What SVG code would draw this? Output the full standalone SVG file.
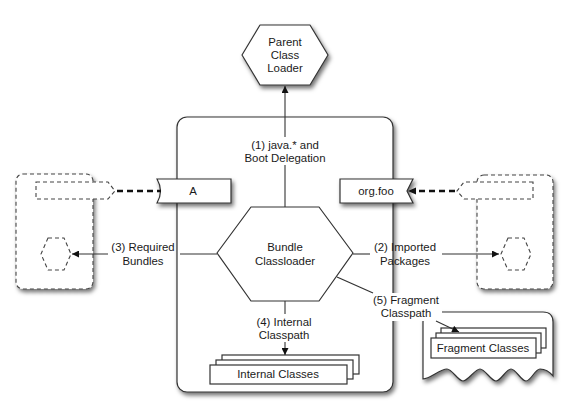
<svg xmlns="http://www.w3.org/2000/svg" width="565" height="404" viewBox="0 0 565 404">
<style>
text{font-family:"Liberation Sans",Arial,sans-serif;font-size:11.4px;fill:#1a1a1a;text-anchor:middle}
.n{fill:#fff;stroke:#333;stroke-width:1.2}
.d{fill:#fff;stroke:#444;stroke-width:1.1;stroke-dasharray:4,3}
.c{fill:none;stroke:#333;stroke-width:1.1}
.dash{fill:none;stroke:#111;stroke-width:2.6;stroke-dasharray:6,4}
</style>
<defs>
<filter id="sh" x="-20%" y="-20%" width="150%" height="150%">
<feDropShadow dx="2" dy="3" stdDeviation="2" flood-color="#000" flood-opacity="0.55"/>
</filter>
<marker id="ar" viewBox="0 0 10 10" refX="10" refY="5" markerWidth="8" markerHeight="7" markerUnits="userSpaceOnUse" orient="auto">
<path d="M0,0 L10,5 L0,10 Z" fill="#111"/>
</marker>
</defs>
<rect width="565" height="404" fill="#fff"/>

<g id="bundle-box">
<rect class="n" x="177" y="117" width="216" height="275" rx="10" filter="url(#sh)"/>
</g>

<g id="parent-class-loader">
<path class="n" filter="url(#sh)" d="M260,25 H310 L328,55 L310,85 H260 L242,55 Z" stroke-linejoin="round"/>
<text x="285" y="46">Parent</text>
<text x="285" y="59">Class</text>
<text x="285" y="72">Loader</text>
</g>

<g id="left-bundle">
<rect class="d" x="16" y="174" width="77" height="115" rx="7" filter="url(#sh)"/>
<path class="d" d="M36,182 H108 L115,191 L108,199 H36 Z"/>
<path class="d" d="M48,238 H64 L71,254 L64,270 H48 L41,254 Z"/>
</g>

<g id="right-bundle">
<rect class="d" x="477" y="175" width="76" height="114" rx="7" filter="url(#sh)"/>
<path class="d" d="M533,182 H464 L457,191 L464,199 H533 Z"/>
<path class="d" d="M508,238 H524 L531,254 L524,270 H508 L501,254 Z"/>
</g>

<g id="tab-a">
<path class="n" filter="url(#sh)" d="M157,179 H231 V203 H157 Q164,191 157,179 Z"/>
<text x="193" y="195">A</text>
</g>

<g id="tab-orgfoo">
<path class="n" filter="url(#sh)" d="M340,179 H413 L407,191 L413,203 H340 Z"/>
<text x="376" y="195">org.foo</text>
</g>

<g id="bundle-classloader">
<path class="n" stroke-linejoin="round" d="M251,207 H319 L353,253 L319,301 H251 L217,253 Z"/>
<text x="285" y="251">Bundle</text>
<text x="285" y="265">Classloader</text>
</g>

<g id="internal-classes">
<rect class="n" x="222" y="355" width="137" height="19"/>
<rect class="n" x="216" y="360" width="137" height="19"/>
<rect class="n" x="210" y="365" width="137" height="19"/>
<text x="278" y="378">Internal Classes</text>
</g>

<g id="fragment">
<path class="n" filter="url(#sh)" d="M433,312 H543 Q553,312 553,322 V376 C549,371 544,369 540,369 C535,369 531,381 526,381 C521,381 516,369 511,369 C506,369 501,381 496,381 C491,381 485,369 480,369 C475,369 468,381 463,381 C458,381 452,369 447,369 C440,369 430,379 423,379 V322 Q423,312 433,312 Z"/>
<rect x="368" y="293" width="74" height="28" fill="#fff"/>
<rect class="n" x="441" y="328" width="105" height="20"/>
<rect class="n" x="436" y="333" width="105" height="20"/>
<rect class="n" x="431" y="338" width="105" height="20"/>
<text x="483" y="352">Fragment Classes</text>
</g>

<g id="connectors">
<line class="dash" x1="117" y1="191" x2="161" y2="191"/>
<line class="dash" x1="455" y1="191" x2="416" y2="191"/>
<path d="M408,191 L416,187.5 L416,194.5 Z" fill="#111"/>

<line class="c" x1="285" y1="207" x2="285" y2="165"/>
<line class="c" x1="285" y1="137" x2="285" y2="86" marker-end="url(#ar)"/>
<text x="285" y="149">(1) java.* and</text>
<text x="285" y="162">Boot Delegation</text>

<line class="c" x1="217" y1="254" x2="180" y2="254"/>
<line class="c" x1="108" y1="254" x2="72" y2="254" marker-end="url(#ar)"/>
<text x="143" y="251">(3) Required</text>
<text x="143" y="265">Bundles</text>

<line class="c" x1="353" y1="254" x2="370" y2="254"/>
<line class="c" x1="442" y1="254" x2="499" y2="254" marker-end="url(#ar)"/>
<text x="405" y="251">(2) Imported</text>
<text x="405" y="265">Packages</text>

<line class="c" x1="337" y1="277" x2="373" y2="293"/>
<line class="c" x1="436" y1="321" x2="459" y2="332" marker-end="url(#ar)"/>
<text x="406" y="304">(5) Fragment</text>
<text x="406" y="317">Classpath</text>

<line class="c" x1="285" y1="301" x2="285" y2="314"/>
<line class="c" x1="285" y1="342" x2="285" y2="355" marker-end="url(#ar)"/>
<text x="284" y="326">(4) Internal</text>
<text x="284" y="339">Classpath</text>
</g>
</svg>
